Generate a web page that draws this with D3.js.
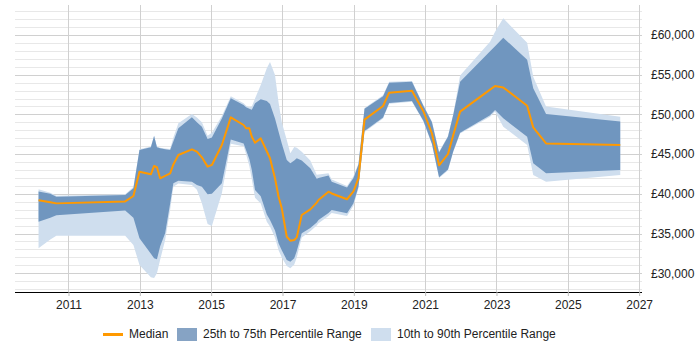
<!DOCTYPE html>
<html>
<head>
<meta charset="utf-8">
<script src="https://cdn.jsdelivr.net/npm/d3@7"></script>
<style>
html,body{margin:0;padding:0;background:#fff;}
svg{display:block;font-family:"Liberation Sans",Arial,sans-serif;}
</style>
</head>
<body>
<svg id="chart" width="700" height="350"></svg>
<script>
const dates = [2010.16,2010.49,2010.66,2012.59,2012.82,2012.99,2013.31,2013.40,2013.48,2013.57,2013.71,2013.85,2013.94,2014.08,2014.46,2014.60,2014.74,2014.90,2015.02,2015.30,2015.55,2015.91,2015.98,2016.07,2016.14,2016.23,2016.39,2016.56,2016.65,2016.79,2016.89,2016.98,2017.12,2017.22,2017.33,2017.40,2017.54,2017.78,2017.96,2018.01,2018.29,2018.38,2018.81,2018.99,2019.13,2019.30,2019.82,2019.99,2020.63,2020.95,2021.19,2021.39,2021.64,2021.79,2021.98,2022.82,2022.96,2023.19,2023.86,2024.03,2024.39,2026.47];
const p90 = [40570,40150,39750,39950,40850,45600,45950,47350,45950,45800,45700,45650,47100,48880,50050,49600,49000,47300,47700,49800,52300,51400,51100,50900,51000,52000,53700,55800,56600,54960,51500,49000,46780,45100,45900,45800,45310,44200,42400,42450,42600,41800,41000,42200,43800,50800,52400,54100,54200,51200,49100,45300,47300,50100,54900,59160,60400,62100,59030,54750,51000,49720];
const p75 = [40300,40000,39640,39860,40700,45520,45860,47280,45860,45730,45600,45520,46600,48250,49630,49000,48460,46900,47100,49500,52030,51200,50900,50700,50600,51400,51900,51700,51300,49500,47830,46350,44260,43850,44200,44480,44200,43220,41900,42000,42300,41530,40800,42000,43700,50700,52300,54000,54130,51100,49000,45200,47200,50000,54130,57960,58600,59660,56900,53290,50050,49100];
const median = [39200,38950,38800,39050,39730,42790,42460,43510,43350,41960,42270,42580,43700,44890,45600,45310,44600,43430,43640,46150,49630,48670,48250,48250,47200,46440,46980,45370,44480,41960,39640,38180,34600,34100,34190,34520,37340,38050,38900,39230,40270,40050,39320,40300,41960,49350,51060,52740,52990,50400,47600,43600,45000,47440,50350,53120,53580,53400,51100,48370,46350,46150];
const p25 = [36500,37000,37300,37890,37000,34400,32450,31900,31760,33400,35040,38800,41320,41660,41530,41100,40900,39950,40000,41320,46850,46350,45500,44400,43000,40480,39700,37400,36700,35400,33770,32900,31670,31460,31900,32800,35030,35700,36400,36700,37600,37970,37550,38810,40900,47900,49600,51450,51700,49200,46300,42100,43050,45400,47700,49900,50560,49510,47200,43850,42580,43000];
const p10 = [33150,34250,34730,34730,33560,31050,29500,29400,30000,31700,34200,38000,40900,41300,41110,40500,38810,36200,35960,40070,46300,46000,45000,43500,41800,39500,38800,36500,35900,34500,32900,32000,30900,30630,31100,32000,34500,35300,36000,36300,37200,37600,37200,38500,40700,47800,49500,51350,51600,49100,46200,42000,42950,45300,47600,49700,50350,48460,46150,42370,41530,42370];
const xTicks = [2011,2013,2015,2017,2019,2021,2023,2025,2027];
const yTicks = [30000,35000,40000,45000,50000,55000,60000];
const legendLabels = ["Median","25th to 75th Percentile Range","10th to 90th Percentile Range"];

const svg = d3.select("#chart");
const x = d3.scaleLinear().domain([2009.5, 2027.08]).range([15, 642]);
const y = d3.scaleLinear().domain([27640, 63780]).range([292, 5]);

const rows = dates.map((d,i)=>({d, p10:p10[i], p25:p25[i], m:median[i], p75:p75[i], p90:p90[i]}));

// minor gridlines
const minor = d3.range(28000, 64000, 1000).filter(v => v % 5000 !== 0);
svg.append("g").selectAll("line").data(minor).join("line")
  .attr("x1", 15).attr("x2", 642)
  .attr("y1", d => Math.round(y(d))+0.5).attr("y2", d => Math.round(y(d))+0.5)
  .attr("stroke", "#e8e8e8").attr("stroke-width", 1);
// major gridlines
svg.append("g").selectAll("line").data(yTicks).join("line")
  .attr("x1", 15).attr("x2", 642)
  .attr("y1", d => Math.round(y(d))+0.5).attr("y2", d => Math.round(y(d))+0.5)
  .attr("stroke", "#d0d0d0").attr("stroke-width", 1);
// vertical gridlines
svg.append("g").selectAll("line").data(xTicks).join("line")
  .attr("x1", d => Math.round(x(d))+0.5).attr("x2", d => Math.round(x(d))+0.5)
  .attr("y1", 5).attr("y2", 292)
  .attr("stroke", "#d0d0d0").attr("stroke-width", 1);

// bands
const outer = d3.area().x(d => x(d.d)).y0(d => y(d.p10)).y1(d => y(d.p90));
const inner = d3.area().x(d => x(d.d)).y0(d => y(d.p25)).y1(d => y(d.p75));
const line = d3.line().x(d => x(d.d)).y(d => y(d.m));
svg.append("path").datum(rows).attr("d", outer).attr("fill", "#cfdeee");
svg.append("path").datum(rows).attr("d", inner).attr("fill", "#7096bf");
svg.append("path").datum(rows).attr("d", line).attr("fill", "none")
  .attr("stroke", "#ff9900").attr("stroke-width", 2).attr("stroke-linejoin", "round");

// x axis
const xAxis = d3.axisBottom(x).tickValues(xTicks).tickFormat(d3.format("d")).tickSize(4).tickPadding(4);
const gx = svg.append("g").attr("transform", "translate(0,292)").call(xAxis);
gx.select(".domain").attr("stroke", "#000").attr("d", "M15,0.5H642");
gx.selectAll(".tick line").attr("stroke", "#bbb");
gx.selectAll("text").attr("font-size", 12).attr("fill", "#222").attr("font-family", "Liberation Sans, Arial, sans-serif");

// y axis on right
const yAxis = d3.axisRight(y).tickValues(yTicks).tickFormat(d => "£" + d3.format(",")(d)).tickSize(0).tickPadding(0);
const gy = svg.append("g").attr("transform", "translate(651,0)").call(yAxis);
gy.select(".domain").remove();
gy.selectAll("text").attr("font-size", 12).attr("fill", "#222").attr("font-family", "Liberation Sans, Arial, sans-serif");

// legend
const lg = svg.append("g").attr("font-size", 12).attr("fill", "#222");
lg.append("line").attr("x1", 103).attr("x2", 123).attr("y1", 334.5).attr("y2", 334.5)
  .attr("stroke", "#ff9900").attr("stroke-width", 3);
lg.append("text").attr("x", 129).attr("y", 334).attr("dy", "0.35em").text(legendLabels[0]);
lg.append("rect").attr("x", 177).attr("y", 328).attr("width", 20).attr("height", 13).attr("fill", "#86a3c4");
lg.append("text").attr("x", 203).attr("y", 334).attr("dy", "0.35em").text(legendLabels[1]);
lg.append("rect").attr("x", 371).attr("y", 328).attr("width", 20).attr("height", 13).attr("fill", "#cfdeee");
lg.append("text").attr("x", 397).attr("y", 334).attr("dy", "0.35em").text(legendLabels[2]);
</script>
</body>
</html>
